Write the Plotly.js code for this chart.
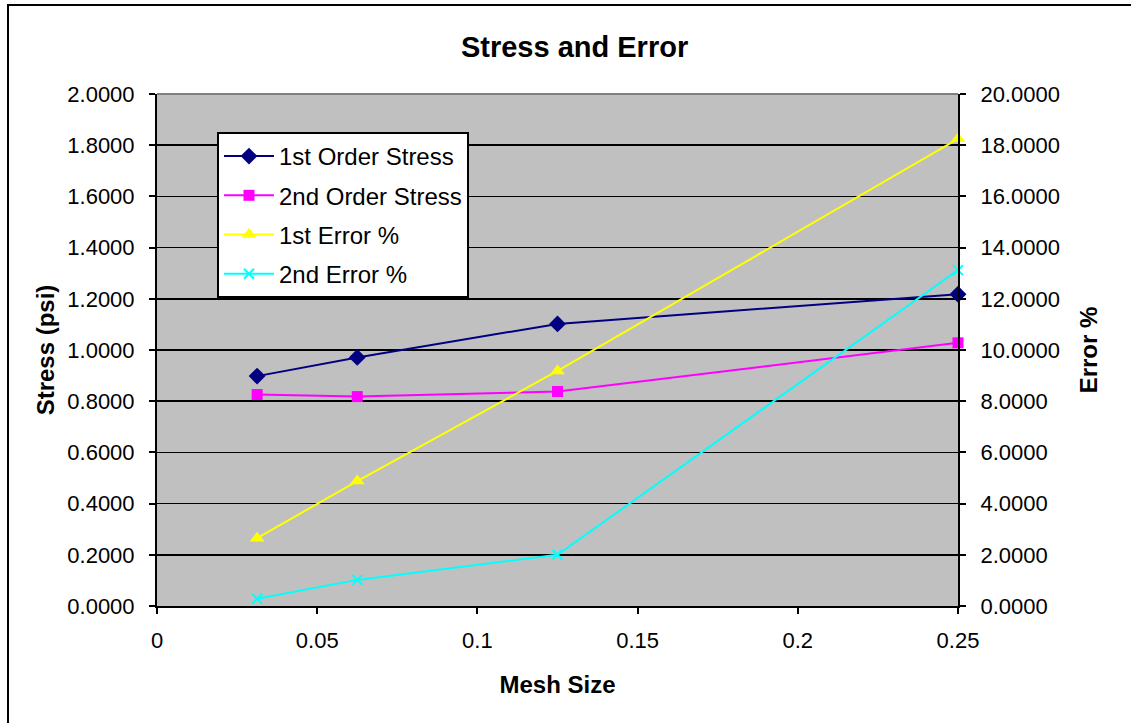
<!DOCTYPE html>
<html>
<head>
<meta charset="utf-8">
<script src="https://cdn.plot.ly/plotly-3.0.1.min.js"></script>
<style>
  html, body { margin: 0; padding: 0; background: #ffffff; }
  #chart { width: 1131px; height: 723px; }
</style>
</head>
<body>
<div id="chart"></div>
<script>
// Mesh refinement study: element size vs. computed stress and error
const meshSize = [0.03125, 0.0625, 0.125, 0.25];
const firstOrderStress = [0.898, 0.971, 1.102, 1.218];
const secondOrderStress = [0.826, 0.818, 0.838, 1.028];
const firstErrorPct = [2.65, 4.88, 9.18, 18.25];
const secondErrorPct = [0.28, 1.02, 2.00, 13.12];

const seriesNames = ['1st Order Stress', '2nd Order Stress', '1st Error %', '2nd Error %'];

const FONT = 'Liberation Sans, Arial, sans-serif';

// plot area in pixels
const W = 1131, H = 723;
const M = { l: 157, r: 173, t: 94, b: 117 };
const pw = W - M.l - M.r, ph = H - M.t - M.b;
const px = v => (v - M.l) / pw;            // pixel x -> paper x
const py = v => (H - M.b - v) / ph;        // pixel y -> paper y

const traces = [
  {
    x: meshSize, y: firstOrderStress, name: seriesNames[0], legendgroup: 'a',
    mode: 'lines+markers', yaxis: 'y', cliponaxis: false,
    line: { color: '#000080', width: 2 },
    marker: { symbol: 'diamond', size: 13, color: '#000080' }
  },
  {
    x: meshSize, y: secondOrderStress, name: seriesNames[1], legendgroup: 'b',
    mode: 'lines+markers', yaxis: 'y', cliponaxis: false,
    line: { color: '#FF00FF', width: 2 },
    marker: { symbol: 'square', size: 11, color: '#FF00FF' }
  },
  {
    x: meshSize, y: firstErrorPct, name: seriesNames[2], legendgroup: 'c',
    mode: 'lines+markers', yaxis: 'y2', cliponaxis: false,
    line: { color: '#FFFF00', width: 2 },
    marker: { symbol: 'triangle-up', size: 13, color: '#FFFF00' }
  },
  {
    x: meshSize, y: secondErrorPct, name: seriesNames[3], legendgroup: 'd',
    mode: 'lines+markers', yaxis: 'y2', cliponaxis: false,
    line: { color: '#00FFFF', width: 2 },
    marker: { symbol: 'x-thin', size: 10, color: '#00FFFF', line: { color: '#00FFFF', width: 2 } }
  }
];

const tickFont = { family: FONT, size: 22, color: '#000' };
const titleFont = { family: FONT, size: 24, color: '#000' };

const layout = {
  width: W, height: H,
  margin: M,
  paper_bgcolor: '#ffffff',
  plot_bgcolor: '#C0C0C0',
  showlegend: true,
  title: {
    text: '<b>Stress and Error</b>',
    font: { family: FONT, size: 29, color: '#000' },
    xref: 'container', x: 0.508, xanchor: 'center',
    yref: 'container', y: 1 - 47 / H, yanchor: 'middle'
  },
  xaxis: {
    range: [0, 0.25], dtick: 0.05, tick0: 0,
    showgrid: false, zeroline: false,
    showline: true, linecolor: '#000', linewidth: 2,
    ticks: 'outside', ticklen: 6, tickwidth: 2, tickcolor: '#000',
    tickfont: tickFont, ticklabelstandoff: 8,
    title: { text: '<b>Mesh Size</b>', font: titleFont, standoff: 24 }
  },
  yaxis: {
    range: [0, 2], dtick: 0.2, tick0: 0, tickformat: '.4f',
    showgrid: true, gridcolor: '#000', gridwidth: 1.5, zeroline: false,
    showline: true, linecolor: '#000', linewidth: 2,
    ticks: 'outside', ticklen: 6, tickwidth: 2, tickcolor: '#000',
    tickfont: tickFont, ticklabelstandoff: 10,
    title: { text: '<b>Stress (psi)</b>', font: titleFont, standoff: 6 }
  },
  yaxis2: {
    overlaying: 'y', side: 'right',
    range: [0, 20], dtick: 2, tick0: 0, tickformat: '.4f',
    showgrid: false, zeroline: false,
    showline: true, linecolor: '#000', linewidth: 2,
    ticks: 'outside', ticklen: 6, tickwidth: 2, tickcolor: '#000',
    tickfont: tickFont, ticklabelstandoff: 10,
    title: { text: '<b>Error %</b>', font: titleFont, standoff: 21 }
  },
  legend: {
    x: px(217), y: py(132), xanchor: 'left', yanchor: 'top',
    bgcolor: '#ffffff', bordercolor: '#000', borderwidth: 2,
    font: { family: FONT, size: 24, color: '#000' },
    traceorder: 'grouped', tracegroupgap: 5, itemwidth: 50
  },
  shapes: [
    // top edge of the plot area
    { type: 'line', xref: 'paper', yref: 'paper', x0: 0, x1: 1, y0: 1, y1: 1,
      line: { color: '#808080', width: 2 } },
    // chart frame
    { type: 'rect', xref: 'paper', yref: 'paper',
      x0: px(8), x1: px(1140), y0: py(5), y1: py(730),
      line: { color: '#000', width: 2 }, layer: 'below' }
  ]
};

Plotly.newPlot('chart', traces, layout, { displayModeBar: false, staticPlot: true });
</script>
</body>
</html>
